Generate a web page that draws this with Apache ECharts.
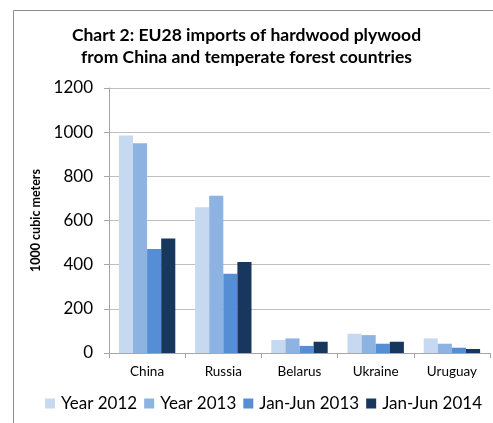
<!DOCTYPE html>
<html>
<head>
<meta charset="utf-8">
<script src="https://cdn.jsdelivr.net/npm/echarts@6/dist/echarts.min.js"></script>
<style>
  html, body { margin: 0; padding: 0; background: #fff; }
  #chart { width: 493px; height: 423px; }
</style>
</head>
<body>
<div id="chart"></div>
<script>
  // countries on the x axis
  var countries = ['China', 'Russia', 'Belarus', 'Ukraine', 'Uruguay'];
  // 1000 cubic meters
  var year2012 = [985, 660, 59, 87, 66];
  var year2013 = [950, 712, 66, 81, 42];
  var h1_2013 = [471, 359, 32, 42, 24];
  var h1_2014 = [519, 412, 51, 51, 18];
  var seriesNames = ['Year 2012', 'Year 2013', 'Jan-Jun 2013', 'Jan-Jun 2014'];
  var seriesColors = ['#c6d9f1', '#8db3e2', '#558ed5', '#17375e'];

  var font = 'Lato, "Open Sans", sans-serif';
  var allData = [year2012, year2013, h1_2013, h1_2014];
  var seriesList = [];
  for (var i = 0; i < allData.length; i++) {
    seriesList.push({
      name: seriesNames[i],
      type: 'bar',
      data: allData[i],
      barGap: 0,
      barCategoryGap: '26%',
      itemStyle: { color: seriesColors[i] }
    });
  }

  var myChart = echarts.init(document.getElementById('chart'));
  myChart.setOption({
    animation: false,
    color: seriesColors,
    title: {
      text: 'Chart 2: EU28 imports of hardwood plywood\nfrom China and temperate forest countries',
      left: 'center',
      top: 19,
      padding: [5, 5, 5, 17],   // nudge right a bit
      textStyle: { fontFamily: font, fontSize: 17.5, fontWeight: 'bold', color: '#000', lineHeight: 22 }
    },
    grid: { left: 109, right: 3, top: 88, bottom: 70 },
    legend: {
      bottom: 6,
      left: 40,
      width: 450,
      itemWidth: 10,
      itemHeight: 10,
      itemGap: 7,
      icon: 'rect',
      textStyle: { fontFamily: font, fontSize: 17, color: '#000', padding: [0, 0, 0, 1] },
      data: seriesNames
    },
    xAxis: {
      type: 'category',
      data: countries,
      axisLine: { lineStyle: { color: '#a6a6a6' } },
      axisTick: { show: true, length: 5, lineStyle: { color: '#a6a6a6' } },
      axisLabel: { fontFamily: font, fontSize: 13.5, color: '#000', margin: 12 }
    },
    yAxis: {
      type: 'value',
      min: 0,
      max: 1200,
      interval: 200,
      name: '1000 cubic meters',
      nameLocation: 'middle',
      nameGap: 66,
      nameTextStyle: { fontFamily: font, fontSize: 12.5, fontWeight: 'bold', color: '#000' },
      axisLine: { show: true, lineStyle: { color: '#a6a6a6' } },
      axisTick: { show: true, length: 5, lineStyle: { color: '#a6a6a6' } },
      axisLabel: {
        fontFamily: font, fontSize: 17, color: '#000', margin: 16,
        formatter: function (v) { return String(v); }
      },
      splitLine: { lineStyle: { color: '#bfbfbf' } }
    },
    graphic: [
      { type: 'line', shape: { x1: 13.5, y1: 10.5, x2: 493, y2: 10.5 }, style: { stroke: '#8c8c8c', lineWidth: 1 } },
      { type: 'line', shape: { x1: 13.5, y1: 10.5, x2: 13.5, y2: 423 }, style: { stroke: '#8c8c8c', lineWidth: 1 } }
    ],
    series: seriesList
  });
  window.addEventListener('resize', function () {
    myChart.resize();
  });
</script>
</body>
</html>
